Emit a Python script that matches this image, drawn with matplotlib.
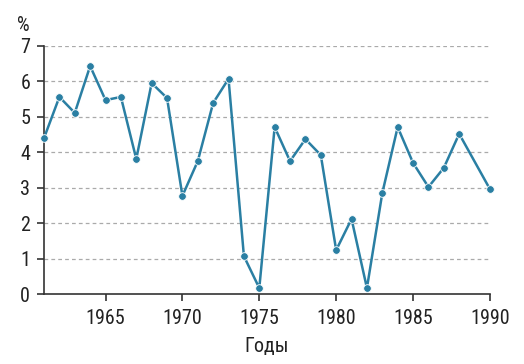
import matplotlib.pyplot as plt

# Data
years = [1961, 1962, 1963, 1964, 1965, 1966, 1967, 1968, 1969, 1970,
         1971, 1972, 1973, 1974, 1975, 1976, 1977, 1978, 1979, 1980,
         1981, 1982, 1983, 1984, 1985, 1986, 1987, 1988, 1990]
values = [4.40, 5.56, 5.11, 6.43, 5.47, 5.56, 3.81, 5.95, 5.53, 2.77,
          3.75, 5.39, 6.07, 1.07, 0.17, 4.71, 3.75, 4.37, 3.92, 1.24,
          2.12, 0.17, 2.85, 4.71, 3.70, 3.02, 3.56, 4.52, 2.96]
xticks = [1965, 1970, 1975, 1980, 1985, 1990]
yticks = [0, 1, 2, 3, 4, 5, 6, 7]

plt.rcParams['font.family'] = ['Roboto Condensed', 'DejaVu Sans']

col = '#2a7fa3'
txt = '#222222'

fig = plt.figure(figsize=(5.24, 3.64), dpi=100)
ax = fig.add_axes([0.084, 0.192, 0.851, 0.682])

ax.plot(years, values, color=col, lw=1.8, marker='o', ms=5.5,
        mec='white', mew=0.6, zorder=3, clip_on=False)

ax.set_xlim(1961, 1990)
ax.set_ylim(0, 7)
ax.set_xticks(xticks)
ax.set_yticks(yticks)
for y in yticks[1:]:
    ax.axhline(y, color='#aaaaaa', lw=0.9, ls=(0, (3, 2.5)), zorder=1)

for s in ['top', 'right']:
    ax.spines[s].set_visible(False)
for s in ['left', 'bottom']:
    ax.spines[s].set_color('#333333')
    ax.spines[s].set_linewidth(1.2)

ax.tick_params(axis='both', labelsize=14.5, colors='#333333', labelcolor=txt,
               length=5, width=1.2)
ax.tick_params(axis='x', pad=6)
ax.tick_params(axis='y', pad=5)

ax.set_xlabel('Годы', fontsize=14.5, color=txt, labelpad=6)
fig.text(0.044, 0.93, '%', fontsize=14.5, color=txt, ha='center', va='center')

fig.savefig('out.png', dpi=100)
